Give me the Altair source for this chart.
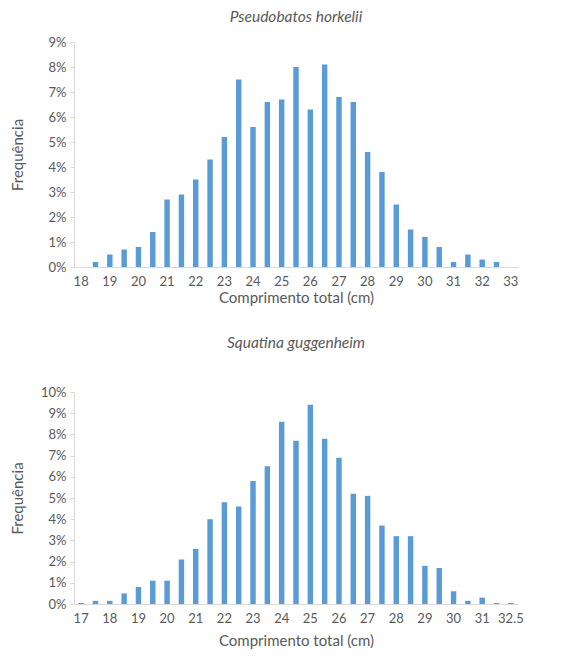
import altair as alt
import pandas as pd

top_title = "Pseudobatos horkelii"
top_cats = ["18", "18.5", "19", "19.5", "20", "20.5", "21", "21.5", "22", "22.5",
            "23", "23.5", "24", "24.5", "25", "25.5", "26", "26.5", "27", "27.5",
            "28", "28.5", "29", "29.5", "30", "30.5", "31", "31.5", "32", "32.5", "33"]
top_vals = [0, 0.2, 0.5, 0.7, 0.8, 1.4, 2.7, 2.9, 3.5, 4.3,
            5.2, 7.5, 5.6, 6.6, 6.7, 8.0, 6.3, 8.1, 6.8, 6.6,
            4.6, 3.8, 2.5, 1.5, 1.2, 0.8, 0.2, 0.5, 0.3, 0.2, 0]
top_labels = ["18", "19", "20", "21", "22", "23", "24", "25", "26", "27",
              "28", "29", "30", "31", "32", "33"]
top_yticks = [0, 1, 2, 3, 4, 5, 6, 7, 8, 9]

bot_title = "Squatina guggenheim"
bot_cats = ["17", "17.5", "18", "18.5", "19", "19.5", "20", "20.5", "21", "21.5",
            "22", "22.5", "23", "23.5", "24", "24.5", "25", "25.5", "26", "26.5",
            "27", "27.5", "28", "28.5", "29", "29.5", "30", "30.5", "31", "31.5", "32.5"]
bot_vals = [0.05, 0.15, 0.15, 0.5, 0.8, 1.1, 1.1, 2.1, 2.6, 4.0,
            4.8, 4.6, 5.8, 6.5, 8.6, 7.7, 9.4, 7.8, 6.9, 5.2,
            5.1, 3.7, 3.2, 3.2, 1.8, 1.7, 0.6, 0.15, 0.3, 0.05, 0.05]
bot_labels = ["17", "18", "19", "20", "21", "22", "23", "24", "25", "26",
              "27", "28", "29", "30", "31", "32.5"]
bot_yticks = [0, 1, 2, 3, 4, 5, 6, 7, 8, 9, 10]

x_title = "Comprimento total (cm)"
y_title = "Frequência"

FONT = "Lato"
GRAY = "#595959"
BLUE = "#5B9BD5"


def panel(title, cats, vals, labels, yticks, height, title_offset, x_title_pad):
    df = pd.DataFrame({"cat": cats, "val": vals})
    return alt.Chart(df).mark_bar(color=BLUE).encode(
        x=alt.X("cat:N", sort=cats,
                scale=alt.Scale(paddingInner=0.62, paddingOuter=0.31),
                axis=alt.Axis(values=labels, labelAngle=0, title=x_title,
                              ticks=False, labelPadding=8,
                              titlePadding=x_title_pad,
                              domainColor="#d9d9d9")),
        y=alt.Y("val:Q", scale=alt.Scale(domain=[0, max(yticks)], nice=False),
                axis=alt.Axis(values=yticks, labelExpr="datum.value + '%'",
                              title=y_title, grid=False, tickSize=4,
                              tickColor="#d9d9d9", domainColor="#d9d9d9",
                              labelPadding=4, titleX=-49)),
    ).properties(
        width=444, height=height,
        title=alt.TitleParams(title, fontStyle="italic", fontWeight="normal",
                              fontSize=15.5, color=GRAY, font=FONT,
                              offset=title_offset),
    )


top = panel(top_title, top_cats, top_vals, top_labels, top_yticks, 225, 11, 2)
bot = panel(bot_title, bot_cats, bot_vals, bot_labels, bot_yticks, 212, 35, 8)

chart = alt.vconcat(top, bot, spacing=30).configure_view(
    stroke=None
).configure_axis(
    labelFont=FONT, titleFont=FONT, labelColor=GRAY, titleColor=GRAY,
    labelFontSize=13, titleFontSize=15, titleFontWeight="normal"
).properties(padding={"left": 2, "top": 1, "right": 5, "bottom": 5})

chart.save("out.html", embed_options={"renderer": "svg", "actions": False})
